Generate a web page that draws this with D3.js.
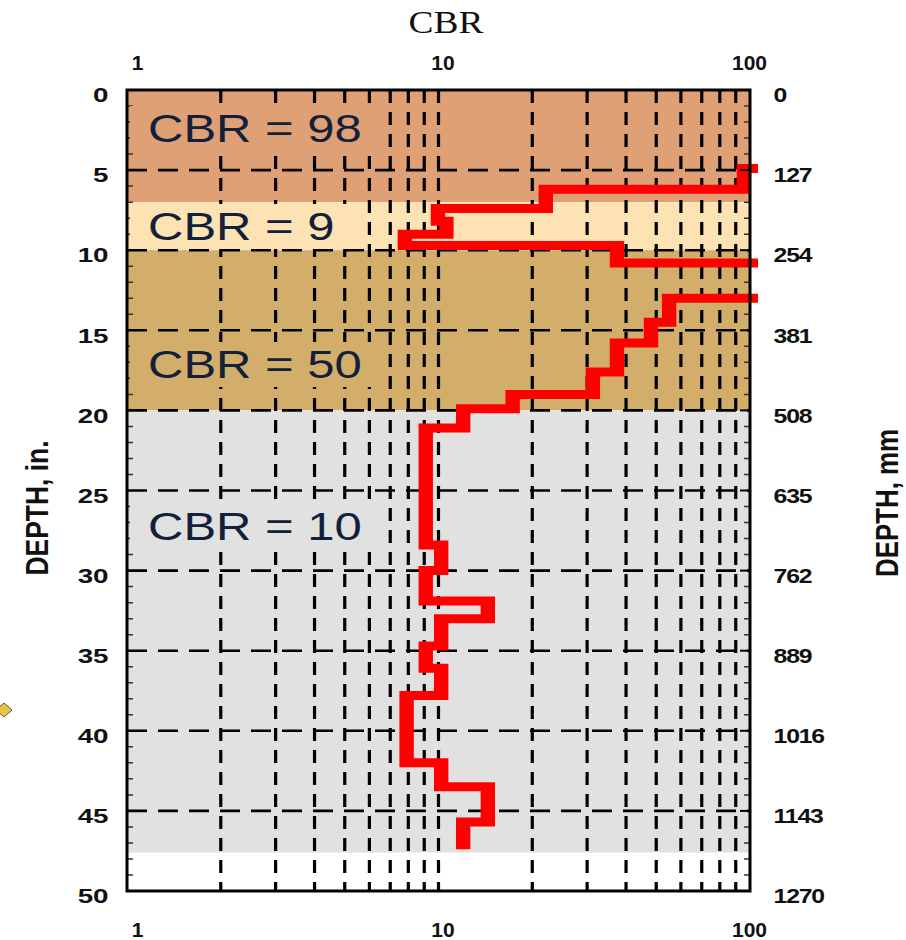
<!DOCTYPE html>
<html>
<head>
<meta charset="utf-8">
<script src="https://cdn.jsdelivr.net/npm/d3@7"></script>
<style>
  body { margin: 0; background: #fff; }
  text { font-family: "Liberation Sans", Arial, sans-serif; }
</style>
</head>
<body>
<div id="chart"></div>
<script>
// soil layers (depth in inches)
const layerTops = [0, 7, 10, 20];
const layerBottoms = [7, 10, 20, 47.6];
const layerCbr = [98, 9, 50, 10];
const layerColors = ["#e0a075", "#fde2b3", "#d3ae6b", "#e1e1e1"];

// DCP trace: CBR held over each depth interval, 150 = off the scale
const traceDepths = [4.9, 6.2, 7.4, 8.2, 9.0, 9.7, 10.8, 13.0, 14.5, 15.8, 17.6, 19.0, 19.9,
    21.1, 28.4, 30.0, 31.9, 33.0, 34.7, 36.1, 37.8, 42.0, 43.5, 45.7, 47.4];
const traceCbr = [95.6, 22.1, 9.96, 10.6, 7.8, 37.4, 150, 55, 48.1, 37.4, 31.3, 17.3,
    12.0, 9.1, 10.2, 9.1, 14.4, 10.2, 9.1, 10.2, 7.9, 10.2, 14.4, 12.0];
const traceStartCbr = 150;

// ticks
const cbrTicks = [1, 10, 100];
const cbrGrid = [2, 3, 4, 5, 6, 7, 8, 9, 10, 20, 30, 40, 50, 60, 70, 80, 90];
const depthTicks = [0, 5, 10, 15, 20, 25, 30, 35, 40, 45, 50];
const depthGrid = [5, 10, 15, 20, 25, 30, 35, 40, 45];
const mmTicks = ["0", "127", "254", "381", "508", "635", "762", "889", "1016", "1143", "1270"];

const W = 906, H = 940;
const pLeft = 127, pRight = 750, pTop = 90, pBottom = 891;

const svg = d3.select("#chart").append("svg")
    .attr("width", W)
    .attr("height", H);

const x = d3.scaleLog().domain([1, 100]).range([pLeft, pRight]);
const y = d3.scaleLinear().domain([0, 50]).range([pTop, pBottom]);

// layer bands
svg.append("g").selectAll("rect")
    .data(layerCbr)
    .join("rect")
    .attr("x", x(1))
    .attr("width", x(100) - x(1))
    .attr("y", (d, i) => y(layerTops[i]))
    .attr("height", (d, i) => y(layerBottoms[i]) - y(layerTops[i]))
    .attr("fill", (d, i) => layerColors[i]);

// dashed grid
svg.append("g").selectAll("line")
    .data(cbrGrid)
    .join("line")
    .attr("x1", d => x(d)).attr("x2", d => x(d))
    .attr("y1", pTop).attr("y2", pBottom)
    .attr("stroke", "#000")
    .attr("stroke-width", 3.2)
    .attr("stroke-dasharray", "13,9");

svg.append("g").selectAll("line")
    .data(depthGrid)
    .join("line")
    .attr("x1", pLeft).attr("x2", pRight)
    .attr("y1", d => y(d)).attr("y2", d => y(d))
    .attr("stroke", "#000")
    .attr("stroke-width", 2.6)
    .attr("stroke-dasharray", "20,11");

// minor inch ticks on both sides
const inches = d3.range(1, 50).filter(d => d % 5 != 0);
svg.append("g").selectAll("path")
    .data(inches)
    .join("path")
    .attr("d", d => `M${pLeft},${y(d)}h6M${pRight},${y(d)}h-6`)
    .attr("stroke", "#333")
    .attr("stroke-width", 1.5);

// band labels, each on a box of its band colour
const labelBase = [142, 240, 378, 540];
const labels = svg.append("g").selectAll("g")
    .data(layerCbr)
    .join("g")
    .attr("transform", (d, i) => `translate(148,${labelBase[i]})`);

labels.append("rect")
    .attr("fill", (d, i) => layerColors[i]);

labels.append("text")
    .attr("transform", "scale(1.29,1)")
    .style("font-size", "38px")
    .style("fill", "#13203a")
    .text(d => "CBR = " + d);

labels.each(function() {
    const g = d3.select(this);
    const w = g.select("text").node().getBBox().width * 1.29;
    g.select("rect")
        .attr("x", -18).attr("y", -36)
        .attr("width", w + 38).attr("height", 45);
});

// trace: drawn in a squeezed frame so verticals come out wider than horizontals
const sx = 1.6;
const xl = x.copy().range([pLeft / sx, pRight / sx]);

const pts = [{cbr: traceStartCbr, depth: traceDepths[0]}];
traceCbr.forEach((c, i) => {
    pts.push({cbr: c, depth: traceDepths[i]});
    pts.push({cbr: c, depth: traceDepths[i + 1]});
});

svg.append("clipPath")
    .attr("id", "clip")
    .append("rect")
    .attr("x", 0).attr("y", 0)
    .attr("width", (pRight + 8) / sx).attr("height", H);

const line = d3.line()
    .x(d => xl(d.cbr))
    .y(d => y(d.depth));

svg.append("g")
    .attr("transform", `scale(${sx},1)`)
    .append("path")
    .datum(pts)
    .attr("clip-path", "url(#clip)")
    .attr("fill", "none")
    .attr("stroke", "#ff0000")
    .attr("stroke-width", 9)
    .attr("stroke-linejoin", "miter")
    .attr("d", line);

// frame
svg.append("rect")
    .attr("x", pLeft).attr("y", pTop)
    .attr("width", pRight - pLeft).attr("height", pBottom - pTop)
    .attr("fill", "none")
    .attr("stroke", "#000")
    .attr("stroke-width", 3);

// axes
function styleAxis(g) {
    g.select(".domain").remove();
    g.selectAll("text")
        .style("font-family", "'Liberation Sans', Arial, sans-serif")
        .style("font-weight", "bold")
        .style("font-size", "21px")
        .style("fill", "#111");
}

svg.append("g")
    .attr("transform", `translate(${pLeft},5)`)
    .call(d3.axisLeft(y).tickValues(depthTicks).tickSize(0).tickPadding(14))
    .call(styleAxis)
    .selectAll("text")
    .attr("transform", "scale(1.32,1)");

svg.append("g")
    .attr("transform", `translate(${pRight},5)`)
    .call(d3.axisRight(y).tickValues(depthTicks).tickSize(0).tickPadding(20)
        .tickFormat((d, i) => mmTicks[i]))
    .call(styleAxis)
    .selectAll("text")
    .attr("transform", "scale(1.18,1)")
    .style("letter-spacing", "-1px");

// major right ticks
svg.append("g").selectAll("path")
    .data(depthGrid)
    .join("path")
    .attr("d", d => `M${pRight},${y(d)}h-10`)
    .attr("stroke", "#000")
    .attr("stroke-width", 2);

const labelShift = d => d === 1 ? 10 : d === 100 ? -1 : 4;

svg.append("g")
    .attr("transform", `translate(0,${pTop})`)
    .call(d3.axisTop(x).tickValues(cbrTicks).tickSize(0).tickPadding(20).tickFormat(d3.format("d")))
    .call(styleAxis)
    .selectAll("text")
    .attr("dx", labelShift);

svg.append("g")
    .attr("transform", `translate(0,${pBottom})`)
    .call(d3.axisBottom(x).tickValues(cbrTicks).tickSize(0).tickPadding(31).tickFormat(d3.format("d")))
    .call(styleAxis)
    .selectAll("text")
    .attr("dx", labelShift);

// titles
svg.append("text")
    .attr("transform", "translate(446,33) scale(1.17,1)")
    .attr("text-anchor", "middle")
    .style("font-family", "'Liberation Serif', 'Times New Roman', serif")
    .style("font-size", "32px")
    .style("fill", "#111")
    .text("CBR");

svg.append("text")
    .attr("transform", "translate(48,508) rotate(-90)")
    .attr("text-anchor", "middle")
    .attr("textLength", 135)
    .attr("lengthAdjust", "spacingAndGlyphs")
    .style("font-weight", "bold")
    .style("font-size", "32px")
    .style("fill", "#111")
    .text("DEPTH, in.");

svg.append("text")
    .attr("transform", "translate(898,503) rotate(-90)")
    .attr("text-anchor", "middle")
    .attr("textLength", 148)
    .attr("lengthAdjust", "spacingAndGlyphs")
    .style("font-weight", "bold")
    .style("font-size", "32px")
    .style("fill", "#111")
    .text("DEPTH, mm");

// stray marker cut by the left edge
svg.append("path")
    .attr("d", "M-4,710L4,703L12,710L4,717Z")
    .attr("fill", "#e8c54a")
    .attr("stroke", "#6b5a1e")
    .attr("stroke-width", 1);
</script>
</body>
</html>
